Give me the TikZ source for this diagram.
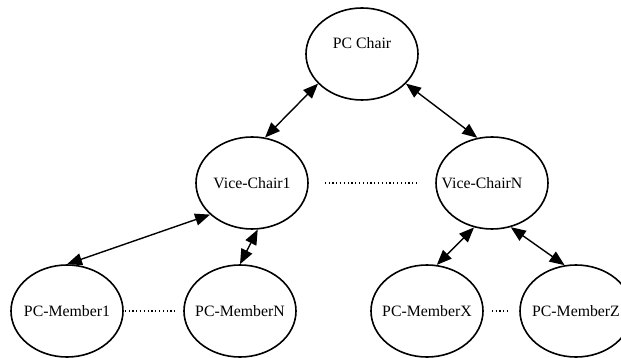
\documentclass[tikz,border=0pt]{standalone}
\usepackage{fontspec}
\setmainfont{Liberation Serif}
\usetikzlibrary{shapes.geometric, arrows.meta}
\newcommand{\rolefont}{\fontsize{15.8}{19}\selectfont}
\newcommand{\personname}[1]{\makebox[0pt]{#1}}

\begin{document}
\begin{tikzpicture}[x=1pt, y=-1pt,
    role/.style={ellipse, draw, line width=1.6pt, minimum width=112pt, minimum height=92pt, inner sep=0pt, font=\rolefont},
    link/.style={{Triangle[length=15pt, width=12pt]}-{Triangle[length=15pt, width=12pt]}, line width=1.4pt},
    gap/.style={line width=1.2pt, dash pattern=on 1.2pt off 2.6pt}]
  \useasboundingbox (0,0) rectangle (621,358);
  \clip (0,0) rectangle (621,358);

  % chairs
  \node[role, label={[font=\rolefont, yshift=11pt]center:PC Chair}] (chair) at (362,54) {};
  \node[role] (vc1) at (252,183) {\personname{Vice-Chair1}};
  \node[role, label={[font=\rolefont, xshift=-10pt]center:Vice-ChairN}] (vcN) at (492,183) {};

  % members
  \node[role] (m1) at (67,311) {\personname{PC-Member1}};
  \node[role] (mN) at (240,311) {\personname{PC-MemberN}};
  \node[role] (mX) at (427,311) {\personname{PC-MemberX}};
  \node[role] (mZ) at (576,311) {\personname{PC-MemberZ}};

  \draw[link] (chair.214) -- (vc1.74);
  \draw[link] (chair.326) -- (vcN.108);
  \draw[link] (vc1.217) -- (m1.90);
  \draw[link] (vc1.277) -- (mN.90);
  \draw[link] (vcN.248) -- (mX.78);
  \draw[link] (vcN.293) -- (mZ.104);

  \draw[gap, shorten <=16pt, shorten >=18pt] (vc1) -- (vcN);
  \draw[gap, shorten <=1pt, shorten >=7pt] (m1) -- (mN);
  \draw[gap, shorten <=8pt, shorten >=12pt] (mX) -- (mZ);
\end{tikzpicture}
\end{document}
